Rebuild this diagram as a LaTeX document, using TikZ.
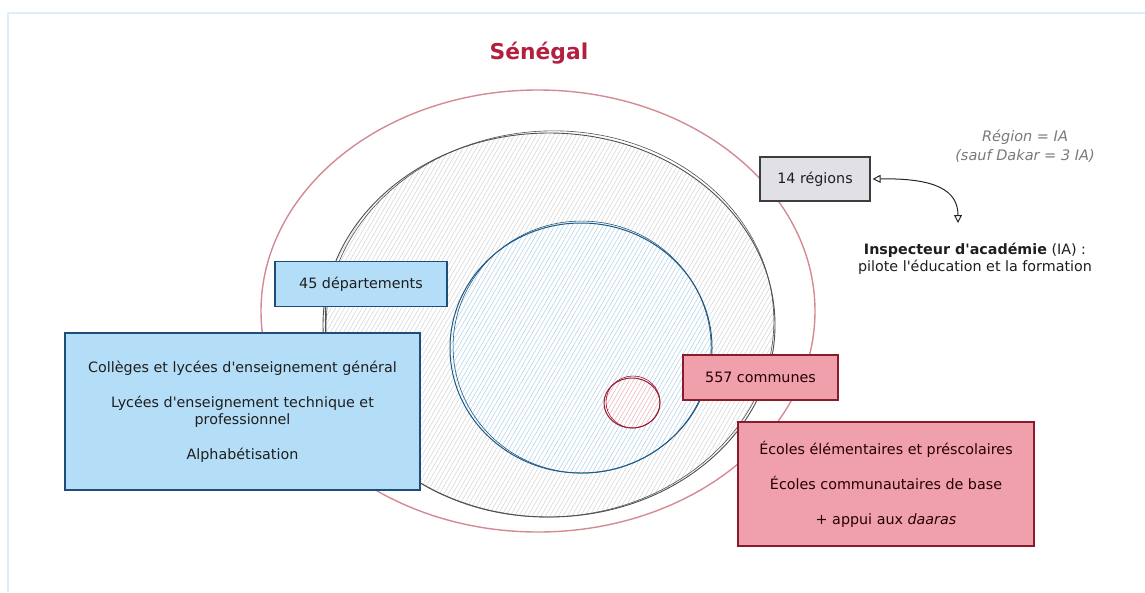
\documentclass[tikz,border=0pt]{standalone}
\usepackage{fontspec}
\newfontfamily\mainf{DejaVu Sans}
\usetikzlibrary{arrows.meta}
\definecolor{framec}{HTML}{DDEEFA}
\definecolor{titlec}{HTML}{B3203F}
\definecolor{pinkline}{HTML}{D48A95}
\definecolor{grayline}{HTML}{505050}
\definecolor{grayhatch}{HTML}{D0D0D0}
\definecolor{blueline}{HTML}{1E5A85}
\definecolor{bluehatch}{HTML}{A9CDE6}
\definecolor{redline}{HTML}{9E1B32}
\definecolor{redhatch}{HTML}{E7A9B3}
\definecolor{bluefill}{HTML}{B4DEF8}
\definecolor{blueborder}{HTML}{1D4E79}
\definecolor{grayfill}{HTML}{E1E0E6}
\definecolor{grayborder}{HTML}{3D3D3D}
\definecolor{pinkfill}{HTML}{EFA0AA}
\definecolor{pinkborder}{HTML}{8A1B2C}
\definecolor{notec}{HTML}{7A7A7A}
\definecolor{textc}{HTML}{1E1E1E}
\begin{document}
\begin{tikzpicture}[x=1pt,y=-1pt,
  every node/.style={font=\mainf\fontsize{14.3}{17}\selectfont, text=textc},
  bluebox/.style={draw=blueborder, fill=bluefill, line width=1.1pt, inner sep=0pt, align=center},
  graybox/.style={draw=grayborder, fill=grayfill, line width=1.1pt, inner sep=0pt, align=center},
  pinkbox/.style={draw=pinkborder, fill=pinkfill, line width=1.1pt, inner sep=0pt, align=center, text=black!85!red},
  note/.style={text=notec, align=center, font=\mainf\itshape\fontsize{14.5}{19}\selectfont},
  hatchline/.style={line width=0.45pt}
]
\useasboundingbox (0,0) rectangle (1145,592);
\draw[framec, line width=1.6pt] (8,592) -- (8,13) -- (1145,13);

% title
\node[font=\mainf\bfseries\fontsize{21.8}{26}\selectfont, text=titlec] (title) at (539,53) {Sénégal};

% pink outer ellipse
\draw[pinkline, line width=1.4pt] (538,311) ellipse [x radius=277, y radius=221];

% gray circle
\begin{scope}
  \clip (549,325) ellipse [x radius=226, y radius=192];
  \foreach \i in {0,...,158} \draw[hatchline, grayhatch] ({90+\i*4.4},520) -- ++(231,-400);
\end{scope}
\draw[grayline, line width=0.9pt] (549,325) ellipse [x radius=226, y radius=192];
\draw[grayline, line width=0.6pt, rotate around={3:(549,325)}] (550,324) ellipse [x radius=224, y radius=193];

% blue circle
\fill[white] (581,348) ellipse [x radius=131, y radius=125];
\begin{scope}
  \clip (581,348) ellipse [x radius=131, y radius=125];
  \foreach \i in {0,...,95} \draw[hatchline, bluehatch] ({300+\i*4.4},476) -- ++(148,-256);
\end{scope}
\draw[blueline, line width=1pt] (581,348) ellipse [x radius=131, y radius=125];
\draw[blueline, line width=0.6pt, rotate around={-4:(581,348)}] (582,347) ellipse [x radius=129, y radius=126];

% red small circle
\fill[white] (632,403) ellipse [x radius=28, y radius=25];
\begin{scope}
  \clip (632,403) ellipse [x radius=28, y radius=25];
  \foreach \i in {0,...,22} \draw[hatchline, redhatch] ({570+\i*4.2},432) -- ++(33,-57);
\end{scope}
\draw[redline, line width=1pt] (632,403) ellipse [x radius=28, y radius=25];
\draw[redline, line width=0.6pt] (633,402) ellipse [x radius=27, y radius=26];

% boxes
\node[graybox, minimum width=110pt, minimum height=44pt] (regions) at (815,179) {14 régions};
\node[bluebox, minimum width=172pt, minimum height=45pt] (dep) at (361,284) {45 départements};
\node[bluebox, minimum width=355pt, minimum height=157pt] (lycees) at (242.5,411.5)
  {Collèges et lycées d'enseignement général\\[18pt]
   Lycées d'enseignement technique et\\ professionnel\\[18pt]
   Alphabétisation};
\node[pinkbox, minimum width=155pt, minimum height=45pt] (communes) at (760.5,377.5) {557 communes};
\node[pinkbox, minimum width=296pt, minimum height=124pt] (ecoles) at (886,484)
  {Écoles élémentaires et préscolaires\\[18pt]
   Écoles communautaires de base\\[18pt]
   + appui aux \textit{daaras}};

% connector dep -> lycees
\coordinate (lc) at (325,0);
\draw[grayline, line width=1pt] (dep.south -| lc) -- (lycees.north -| lc);

% notes
\node[note] (ianote) at (1025,146) {Région = IA\\(sauf Dakar = 3 IA)};
\node[align=center] (inspecteur) at (975,259) {\textbf{Inspecteur d'académie} (IA) :\\pilote l'éducation et la formation};

% arrow
\coordinate (arrend) at (958,223);
\draw[black!85, line width=1pt, {Triangle[open,length=8pt,width=8pt]}-{Triangle[open,length=8pt,width=8pt]}]
  (regions.east) ++(2,0) .. controls (935,178) and (958,190) .. (arrend);
\end{tikzpicture}
\end{document}
